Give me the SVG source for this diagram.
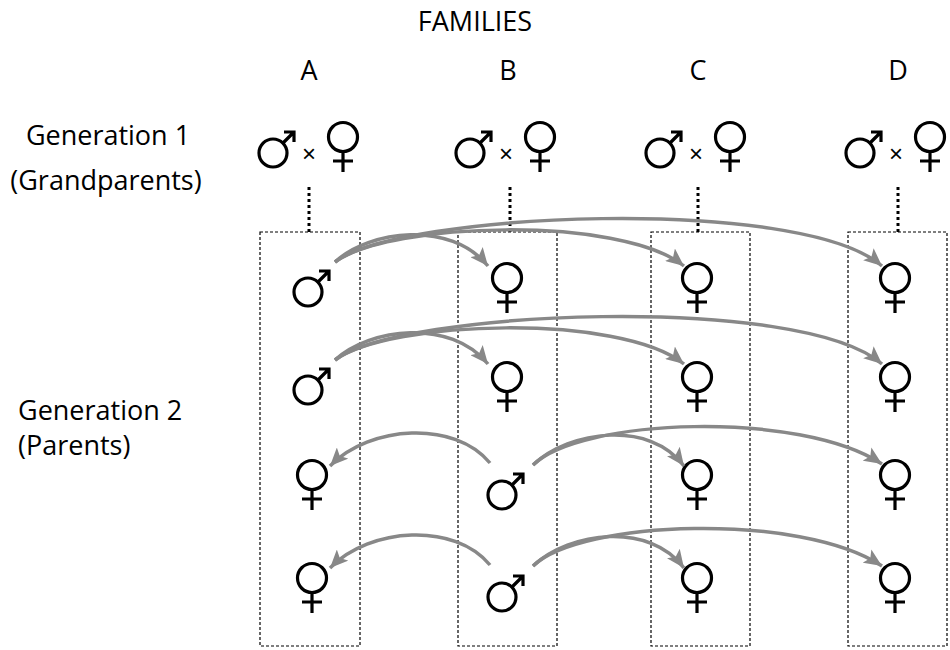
<svg xmlns="http://www.w3.org/2000/svg" xmlns:xlink="http://www.w3.org/1999/xlink" width="950" height="650" viewBox="0 0 950 650">
<style>
.t{font-family:"Open Sans","Liberation Sans",sans-serif;font-size:27px;fill:#000}
.x{font-family:"Liberation Sans",sans-serif;font-size:24px;fill:#000}
.box{fill:none;stroke:#000;stroke-width:1.2;stroke-dasharray:3,2}
.dot{stroke:#000;stroke-width:3;stroke-dasharray:3,3}
.sym{fill:none;stroke:#000;stroke-width:3.2}
.c{fill:none;stroke:#888;stroke-width:3.5;marker-end:url(#ah)}
</style>
<defs>
<marker id="ah" markerUnits="userSpaceOnUse" markerWidth="20" markerHeight="16" refX="18" refY="8" orient="auto"><path d="M0,0 L18,8 L0,16 L4,8 Z" fill="#888"/></marker>
<g id="m" class="sym"><circle cx="0" cy="0" r="14"/><path d="M10,-10 L21,-21 M11,-21 H21 V-11"/></g>
<g id="f" class="sym"><circle cx="0" cy="0" r="14.5"/><path d="M0,14.5 V35 M-10,24 H10"/></g>
</defs>
<text class="t" x="475" y="31" text-anchor="middle">FAMILIES</text>
<text class="t" x="309" y="80" text-anchor="middle">A</text>
<text class="t" x="508" y="80" text-anchor="middle">B</text>
<text class="t" x="698" y="80" text-anchor="middle">C</text>
<text class="t" x="898" y="80" text-anchor="middle">D</text>
<text class="t" x="108" y="145" text-anchor="middle">Generation 1</text>
<text class="t" x="106" y="190" text-anchor="middle">(Grandparents)</text>
<text class="t" x="18" y="420">Generation 2</text>
<text class="t" x="18" y="455">(Parents)</text>
<g id="famA"><use href="#m" x="273" y="153"/><text class="x" x="309" y="162" text-anchor="middle">×</text><use href="#f" x="343" y="137"/><line class="dot" x1="309" y1="187" x2="309" y2="232"/><rect class="box" x="260" y="232" width="100" height="414"/></g>
<g id="famB"><use href="#m" x="470" y="153"/><text class="x" x="506" y="162" text-anchor="middle">×</text><use href="#f" x="540" y="137"/><line class="dot" x1="510" y1="187" x2="510" y2="232"/><rect class="box" x="458" y="232" width="99" height="414"/></g>
<g id="famC"><use href="#m" x="660" y="153"/><text class="x" x="696" y="162" text-anchor="middle">×</text><use href="#f" x="730" y="137"/><line class="dot" x1="698" y1="187" x2="698" y2="232"/><rect class="box" x="651" y="232" width="99" height="414"/></g>
<g id="famD"><use href="#m" x="860" y="153"/><text class="x" x="896" y="162" text-anchor="middle">×</text><use href="#f" x="930" y="137"/><line class="dot" x1="898" y1="187" x2="898" y2="232"/><rect class="box" x="848" y="232" width="99" height="414"/></g>
<g id="gen2">
<use href="#m" x="308" y="292"/><use href="#f" x="507" y="278"/><use href="#f" x="697" y="278"/><use href="#f" x="895" y="278"/>
<use href="#m" x="308" y="390"/><use href="#f" x="507" y="377"/><use href="#f" x="697" y="377"/><use href="#f" x="895" y="377"/>
<use href="#f" x="312" y="475"/><use href="#m" x="502" y="495"/><use href="#f" x="697" y="475"/><use href="#f" x="895" y="475"/>
<use href="#f" x="312" y="578"/><use href="#m" x="502" y="597"/><use href="#f" x="697" y="578"/><use href="#f" x="895" y="578"/>
</g>
<g id="connectors">
<path class="c" d="M335,262 C370,230 450,220 488,266"/>
<path class="c" d="M335,262 C390,222 620,215 684,266"/>
<path class="c" d="M335,262 C400,212 800,195 882,266"/>
<path class="c" d="M335,360 C370,328 450,318 488,364"/>
<path class="c" d="M335,360 C390,320 620,313 684,364"/>
<path class="c" d="M335,360 C400,310 800,293 882,364"/>
<path class="c" d="M490,463 C455,420 370,425 330,466"/>
<path class="c" d="M533,465 C570,430 650,420 684,466"/>
<path class="c" d="M533,465 C580,418 800,410 882,464"/>
<path class="c" d="M490,565 C455,522 370,527 330,568"/>
<path class="c" d="M533,566 C570,531 650,522 684,568"/>
<path class="c" d="M533,566 C580,520 800,512 882,566"/>
</g>
</svg>
